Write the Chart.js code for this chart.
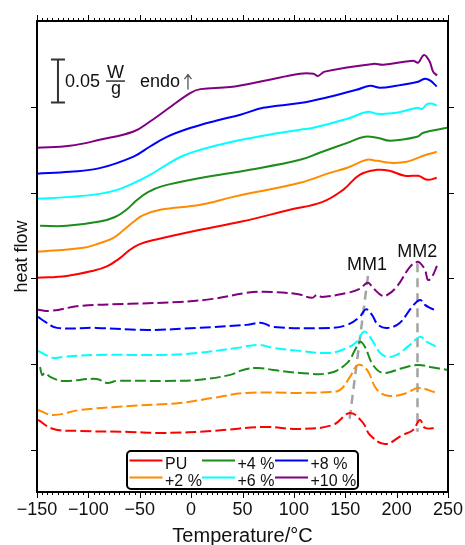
<!DOCTYPE html>
<html>
<head>
<meta charset="utf-8">
<script src="https://cdn.jsdelivr.net/npm/chart.js@4.4.0/dist/chart.umd.min.js"></script>
<style>
    html, body { margin: 0; padding: 0; background: #fff; }
</style>
</head>
<body>
<canvas id="dscChart" width="465" height="545"></canvas>
<script>
// heat flow in mW/g (curves shifted vertically), temperature in °C
var xTickValues = [-150, -100, -50, 0, 50, 100, 150, 200, 250];
var xTickLabels = ['\u2212150', '\u2212100', '\u221250', '0', '50', '100', '150', '200', '250'];
var yTickValues = [100, 200, 300, 400, 500];

var seriesLabels = ['PU', '+2 %', '+4 %', '+6 %', '+8 %', '+10 %'];
var seriesColors = ['#ff0000', '#ff8c00', '#1c8c1c', '#00ffff', '#0000ff', '#800080'];

// solid curves
var heatPU = [[-150,300.6],[-121,302.9],[-95,309],[-82,314],[-70,323],[-60,333],[-50,340],[-35,345],[9,356.6],[48,365.9],[96,379.9],[128,389.2],[148,403.2],[164,420.7],[181,426.5],[193,425.4],[208,419.5],[221,419.5],[230,414.9],[239,417.2]];
var heat2 = [[-150,330.9],[-105,335.6],[-89,341],[-76,347],[-66,356],[-56,366],[-47,373.5],[-30,379.9],[9,385.7],[41,395],[106,411.4],[135,423],[152,428.9],[171,438.2],[181,437],[194,434.7],[210,435.9],[226,442.9],[239,447.5]];
var heat4 = [[-147,361.2],[-121,361.2],[-89,366.2],[-74,371.5],[-63,380],[-53,391],[-42,400.5],[-28,407.5],[9,416.9],[57,426.5],[106,438.2],[125,446.4],[152,458],[169,465],[181,463.9],[194,460.4],[220,465],[226,469.7],[249,475.5]];
var heat6 = [[-150,392.7],[-118,395],[-89,398.5],[-72,403.2],[-56,411],[-40,420.7],[-24,432.4],[-8,442.9],[9,449.9],[41,459.5],[70,466.2],[106,473.2],[119,475.5],[152,486],[172,494.2],[181,491.8],[200,493],[220,498.8],[225,497.7],[230,503.5],[235,503.5],[239,501.2]];
var heat8 = [[-150,422],[-118,424.2],[-89,428.5],[-56,442],[-40,453.7],[-24,464.7],[-1,475.2],[25,484],[48,490.7],[70,498.8],[106,504.3],[135,511.7],[161,519.8],[174,524.5],[184,522.2],[200,524.5],[220,528.8],[227.6,532.7],[232.5,530.7],[239,523.7]];
var heat10 = [[-150,452.2],[-118,454.5],[-89,461.5],[-56,471.2],[-40,482.9],[-24,496.5],[-1,516],[9,520.6],[38,523],[70,530],[106,538.5],[119,538.5],[123.5,536],[130,541],[177,550],[187,549],[216,553.7],[221,551.5],[226.6,560.5],[232,553],[235.5,541],[239.3,536.5]];

// dashed curves
var coolPU = [[-149,135],[-134,124.5],[-108,122.2],[-60,121],[-27,119.8],[21,122.2],[70,126.8],[106,124.5],[138,129.2],[154.6,143.1],[167.3,131.5],[174.1,117.5],[188.7,107],[206,117.5],[216,123.3],[222.7,135],[227.6,125.7],[239.3,125.7]];
var cool2 = [[-149,146.6],[-134,140.8],[-108,146.6],[-60,151.3],[-11,154.8],[21,160.6],[54,166.5],[106,166.5],[135,167.6],[145,170],[154.6,185.1],[162.4,199.1],[171.2,193.3],[181,170],[193.5,163],[210,166.5],[220.8,172.3],[239.3,166.5]];
var cool4 = [[-147,196.8],[-145,187.5],[-142,189.8],[-137,185.1],[-125,180.5],[-92,182.8],[-82,178.1],[-72,180.5],[-27,180.5],[6,181.6],[38,187.5],[50.5,193.3],[65,195.6],[80,193.3],[106,189.8],[135,189.8],[152,201.5],[159.5,216.6],[164.4,226],[169.2,220.1],[177,199.1],[187,189.8],[206,195.6],[220.8,199.1],[232.5,196.8],[250,193.3]];
var cool6 = [[-149,215.5],[-134,207.3],[-125,208.5],[-92,210.8],[-27,210.8],[6,213.1],[45,219],[65,222.5],[80,219],[106,215.5],[135,213.1],[152,219],[161,226],[168.3,238],[174,231.8],[184,213.1],[191,208.5],[200,210.8],[213,222.5],[222.7,231.8],[229.6,226],[239.3,220.1]];
var cool8 = [[-149,255.1],[-142,249.3],[-130.5,242.3],[-92,242.3],[-43,239.9],[6,242.3],[54,245.8],[69,248.1],[80,243.4],[135,242.3],[152,245.8],[164,255.1],[170.2,264],[176,257.4],[182,245.8],[191,242.3],[203,248.1],[215,266.8],[222.7,274.9],[227.6,269.1],[232.5,265.6],[239.3,262.1]];
var cool10 = [[-149,263.3],[-137,262.1],[-108,267.9],[-60,270.3],[-11,272.6],[21,276.1],[54,283.1],[70,284.3],[103,281.9],[117.6,277.3],[122.5,280.8],[127.4,278.4],[152,283.1],[164,287.8],[172,294.8],[177,288.9],[186,279.6],[191,280.8],[200,290.1],[213,313.4],[219.8,319.2],[222.7,318.1],[227.6,309.9],[230.5,298.3],[234.4,301.8],[239.3,314.6]];

// peak guide lines
var lineMM1 = [[172.1,302.9],[153.6,130.3]];
var lineMM2 = [[220.3,317.7],[220.3,121.3]];

var heatSeries = [heatPU, heat2, heat4, heat6, heat8, heat10];
var coolSeries = [coolPU, cool2, cool4, cool6, cool8, cool10];

function toXY(arr) {
    return arr.map(function(p) { return { x: p[0], y: p[1] }; });
}

var FONT = "'Liberation Sans', Arial, Helvetica, sans-serif";
Chart.defaults.font.family = FONT;
Chart.defaults.color = '#000';

var datasets = [];
seriesLabels.forEach(function(lbl, i) {
    datasets.push({ label: lbl, data: toXY(heatSeries[i]), borderColor: seriesColors[i],
        borderWidth: 2, tension: 0.4 });
});
seriesLabels.forEach(function(lbl, i) {
    datasets.push({ label: lbl + ' dashed', data: toXY(coolSeries[i]), borderColor: seriesColors[i],
        borderWidth: 2, borderDash: [11, 4], tension: 0.4 });
});
[lineMM1, lineMM2].forEach(function(arr, i) {
    datasets.push({ label: 'MM' + (i + 1), data: toXY(arr), borderColor: '#a3a3a3',
        borderWidth: 2.5, borderDash: [9, 6], tension: 0, order: 1 });
});

var framePlugin = {
    id: 'frame',
    afterDraw: function(chart) {
        var ctx = chart.ctx;
        var a = chart.chartArea;
        var xs = chart.scales.x, ys = chart.scales.y;
        ctx.save();

        // box
        ctx.strokeStyle = '#000';
        ctx.lineWidth = 2;
        ctx.strokeRect(a.left, a.top, a.right - a.left, a.bottom - a.top);

        // ticks, outward on all sides
        ctx.lineWidth = 1;
        ctx.beginPath();
        for (var t = -150; t <= 250; t += 5) {
            var px = Math.round(xs.getPixelForValue(t)) + 0.5;
            var len = (t % 50 === 0) ? 6 : 3;
            ctx.moveTo(px, a.bottom); ctx.lineTo(px, a.bottom + len);
            ctx.moveTo(px, a.top); ctx.lineTo(px, a.top - len);
        }
        yTickValues.forEach(function(v) {
            var py = Math.round(ys.getPixelForValue(v)) + 0.5;
            ctx.moveTo(a.left, py); ctx.lineTo(a.left - 6, py);
            ctx.moveTo(a.right, py); ctx.lineTo(a.right + 6, py);
        });
        ctx.stroke();

        // scale bar 0.05 W/g = 50 mW/g
        var bx = xs.getPixelForValue(-129.6);
        var bTop = ys.getPixelForValue(555), bBot = ys.getPixelForValue(505);
        var mid = (bTop + bBot) / 2;
        ctx.strokeStyle = '#333';
        ctx.lineWidth = 2;
        ctx.beginPath();
        ctx.moveTo(bx, bTop); ctx.lineTo(bx, bBot);
        ctx.moveTo(bx - 7, bTop); ctx.lineTo(bx + 7, bTop);
        ctx.moveTo(bx - 7, bBot); ctx.lineTo(bx + 7, bBot);
        ctx.stroke();

        ctx.fillStyle = '#111';
        ctx.textBaseline = 'alphabetic';
        ctx.font = '18px ' + FONT;
        ctx.textAlign = 'left';
        ctx.fillText('0.05', bx + 7, mid + 6);
        ctx.fillText('endo', bx + 82, mid + 6);
        // endo arrow
        var ax = bx + 130;
        ctx.strokeStyle = '#555';
        ctx.lineWidth = 1.3;
        ctx.beginPath();
        ctx.moveTo(ax, mid + 8.5); ctx.lineTo(ax, mid - 6);
        ctx.moveTo(ax - 3.5, mid - 2); ctx.lineTo(ax, mid - 6.5); ctx.lineTo(ax + 3.5, mid - 2);
        ctx.stroke();
        ctx.textAlign = 'center';
        ctx.fillText('W', bx + 57.5, mid - 3.5);
        ctx.fillText('g', bx + 58, mid + 13);
        ctx.strokeStyle = '#111';
        ctx.lineWidth = 1.3;
        ctx.beginPath();
        ctx.moveTo(bx + 48, mid); ctx.lineTo(bx + 67, mid);
        ctx.stroke();

        // peak labels
        ctx.fillStyle = '#111';
        ctx.fillText('MM1', xs.getPixelForValue(171.2), ys.getPixelForValue(310));
        ctx.fillText('MM2', xs.getPixelForValue(220), ys.getPixelForValue(324.7));

        // legend, column-major 2 rows x 3 cols
        var lx = a.left + 90, ly = a.bottom - 41, lw = 231, lh = 38;
        ctx.fillStyle = '#fff';
        ctx.strokeStyle = '#000';
        ctx.lineWidth = 2;
        ctx.beginPath();
        ctx.roundRect(lx, ly, lw, lh, 4);
        ctx.fill();
        ctx.stroke();
        var colX = [lx + 2.5, lx + 75, lx + 148];
        var rowY = [ly + 9.5, ly + 26.5];
        ctx.font = '16px ' + FONT;
        ctx.textAlign = 'left';
        seriesLabels.forEach(function(lbl, i) {
            var cx = colX[Math.floor(i / 2)], cy = rowY[i % 2];
            ctx.strokeStyle = seriesColors[i];
            ctx.lineWidth = 2;
            ctx.beginPath();
            ctx.moveTo(cx, cy); ctx.lineTo(cx + 33, cy);
            ctx.stroke();
            ctx.fillStyle = '#111';
            ctx.fillText(lbl, cx + 35.5, cy + 8);
        });
        ctx.restore();
    }
};

var ctx = document.getElementById('dscChart').getContext('2d');
window.dscChart = new Chart(ctx, {
    type: 'line',
    data: { datasets: datasets },
    options: {
        responsive: false,
        animation: false,
        devicePixelRatio: 1,
        layout: { padding: { top: 21, right: 17, left: 0, bottom: 0 } },
        plugins: { legend: { display: false }, tooltip: { enabled: false } },
        elements: { point: { radius: 0 } },
        scales: {
            x: {
                type: 'linear', min: -150, max: 250,
                grid: { display: false, drawTicks: false },
                border: { display: false },
                afterBuildTicks: function(s) { s.ticks = xTickValues.map(function(v) { return { value: v }; }); },
                afterFit: function(s) { s.height = 53; s.paddingLeft = 0; s.paddingRight = 0; },
                ticks: {
                    autoSkip: false, maxRotation: 0, padding: 7, color: '#111',
                    font: { size: 18 },
                    callback: function(v) { return xTickLabels[xTickValues.indexOf(v)]; }
                },
                title: { display: true, text: 'Temperature/°C', color: '#111',
                    font: { size: 20, lineHeight: 1 }, padding: { top: 0, bottom: -1 } }
            },
            y: {
                type: 'linear', min: 51, max: 600,
                grid: { display: false, drawTicks: false },
                border: { display: false },
                ticks: { display: false },
                afterFit: function(s) { s.width = 37; },
                title: { display: true, text: 'heat flow', color: '#111',
                    font: { size: 18, lineHeight: 1 }, padding: { top: 13, bottom: 0 } }
            }
        }
    },
    plugins: [framePlugin]
});
</script>
</body>
</html>
